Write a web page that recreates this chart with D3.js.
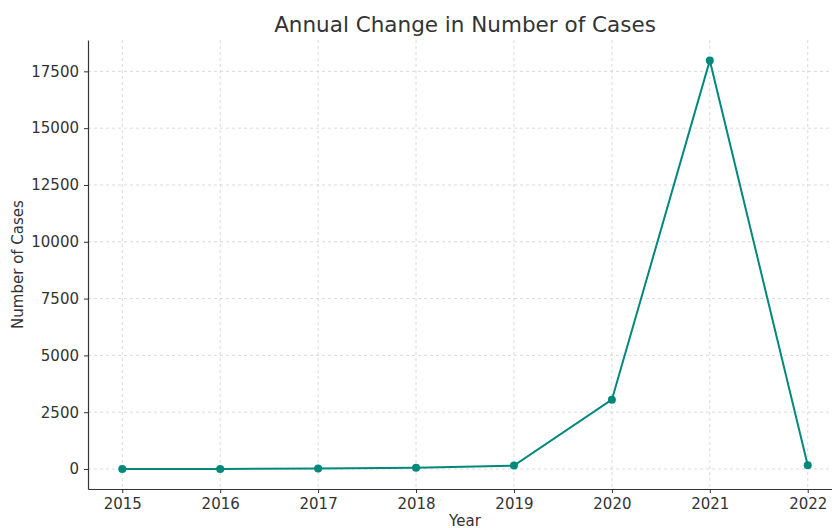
<!DOCTYPE html>
<html><head><meta charset="utf-8">
<script src="https://cdn.jsdelivr.net/npm/d3@7"></script>
<style>body{margin:0;background:#fff}svg{display:block}text{font-family:"DejaVu Sans",sans-serif;fill:#333}</style>
</head><body><svg id="c" width="832" height="528"></svg>
<script>
const years = [2015, 2016, 2017, 2018, 2019, 2020, 2021, 2022];
const cases = [0, 5, 20, 60, 150, 3050, 17980, 170];
const yTicks = [0, 2500, 5000, 7500, 10000, 12500, 15000, 17500];
const title = "Annual Change in Number of Cases";
const xLabel = "Year";
const yLabel = "Number of Cases";

const svg = d3.select("#c");
const L = 88, R = 842, T = 40, B = 489;
const x = d3.scaleLinear().domain([2014.65, 2022.35]).range([L, R]);
const y = d3.scaleLinear().domain([-880, 18880]).range([B, T]);

const grid = svg.append("g");
grid.selectAll(".gx").data(years).enter().append("line")
  .attr("x1", d => x(d)).attr("x2", d => x(d)).attr("y1", T).attr("y2", B)
  .attr("stroke", "#d0d0d0").attr("stroke-dasharray", "3,3").attr("stroke-width", 0.8);
grid.selectAll(".gy").data(yTicks).enter().append("line")
  .attr("x1", L).attr("x2", R).attr("y1", d => y(d)).attr("y2", d => y(d))
  .attr("stroke", "#d0d0d0").attr("stroke-dasharray", "3,3").attr("stroke-width", 0.8);

const xa = svg.append("g").attr("transform", `translate(0,${B})`)
  .call(d3.axisBottom(x).tickValues(years).tickFormat(d3.format("d")).tickSize(4).tickPadding(5).tickSizeOuter(0));
const ya = svg.append("g").attr("transform", `translate(${L},0)`)
  .call(d3.axisLeft(y).tickValues(yTicks).tickFormat(d3.format("d")).tickSize(4).tickPadding(5).tickSizeOuter(0));
[xa, ya].forEach(a => {
  a.selectAll("text").style("font-size", "15px").attr("fill", "#333");
  a.selectAll("line").attr("stroke", "#333");
  a.select(".domain").attr("stroke", "#333").attr("stroke-width", 1.2);
});

const line = d3.line().x((d, i) => x(years[i])).y(d => y(d));
svg.append("path").datum(cases).attr("d", line)
  .attr("fill", "none").attr("stroke", "#00897b").attr("stroke-width", 2);
svg.selectAll(".pt").data(cases).enter().append("circle")
  .attr("cx", (d, i) => x(years[i])).attr("cy", d => y(d)).attr("r", 4)
  .attr("fill", "#00897b");

svg.append("text").attr("x", (L + R) / 2).attr("y", 32).attr("text-anchor", "middle")
  .style("font-size", "21.5px").text(title);
svg.append("text").attr("x", (L + R) / 2).attr("y", 526).attr("text-anchor", "middle")
  .style("font-size", "15px").text(xLabel);
svg.append("text").attr("transform", `translate(23,${(T + B) / 2}) rotate(-90)`)
  .attr("text-anchor", "middle").style("font-size", "15px").text(yLabel);
</script></body></html>
